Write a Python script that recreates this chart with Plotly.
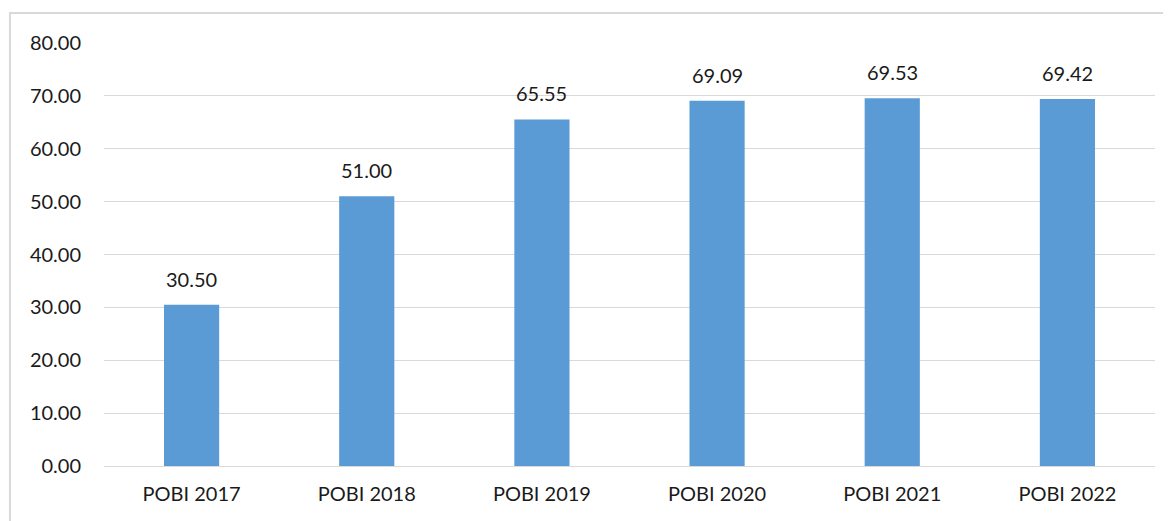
import plotly.graph_objects as go

categories = ["POBI 2017", "POBI 2018", "POBI 2019", "POBI 2020", "POBI 2021", "POBI 2022"]
values = [30.50, 51.00, 65.55, 69.09, 69.53, 69.42]
tick_vals = [0, 10, 20, 30, 40, 50, 60, 70, 80]

FONT = "Lato"
TXT = "#1a1a1a"

# the page body adds an 8px margin, so the figure is 8px smaller and margins shifted
fig = go.Figure()
fig.add_trace(go.Bar(
    x=categories,
    y=values,
    marker=dict(color="#5B9BD5", line=dict(width=0)),
    width=0.315,
    hoverinfo="x+y",
))

# value labels above the bars
for cat, val in zip(categories, values):
    fig.add_annotation(
        x=cat, y=val,
        text=f"{val:.2f}",
        showarrow=False,
        yanchor="bottom",
        yshift=12,
        font=dict(family=FONT, size=20, color=TXT),
    )

# light frame around the chart area
fig.add_shape(
    type="rect", xref="paper", yref="paper",
    x0=-0.0895, x1=1.03, y0=-0.2, y1=1.071,
    line=dict(color="#d9d9d9", width=2),
    fillcolor="rgba(0,0,0,0)",
    layer="below",
)

fig.update_layout(
    width=1163, height=513,
    margin=dict(l=96, r=16, t=35, b=55),
    plot_bgcolor="white",
    paper_bgcolor="white",
    showlegend=False,
    font=dict(family=FONT, size=20, color=TXT),
)
fig.update_xaxes(
    showgrid=False,
    showline=False,
    ticks="",
    ticklabelstandoff=14,
    tickfont=dict(family=FONT, size=20, color=TXT),
)
fig.update_yaxes(
    range=[0, 80],
    tickvals=tick_vals,
    ticktext=[f"{v:.2f}" for v in tick_vals],
    showgrid=True,
    gridcolor="#d9d9d9",
    gridwidth=1.3,
    zeroline=True,
    zerolinecolor="#d9d9d9",
    zerolinewidth=1.3,
    showline=False,
    ticks="",
    ticklabelstandoff=22,
    tickfont=dict(family=FONT, size=20, color=TXT),
)

fig.write_html("out.html")
